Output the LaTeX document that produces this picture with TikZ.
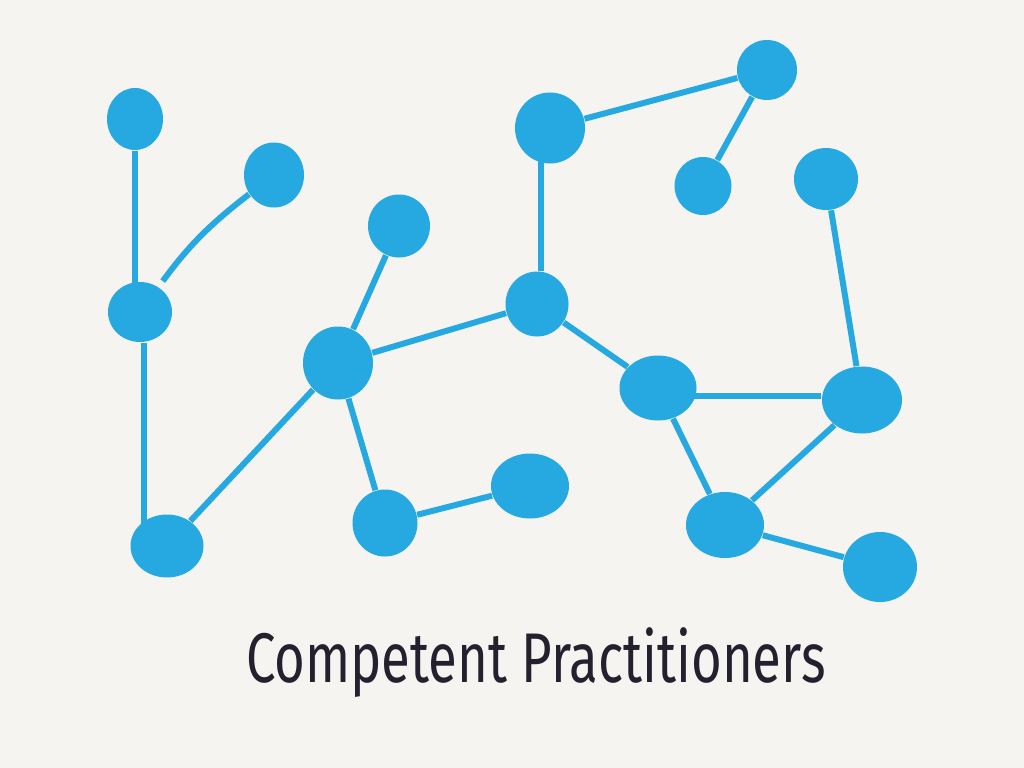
\documentclass[tikz,border=0pt]{standalone}
\usepackage{fontspec}
\setmainfont{Fira Sans}
\usepackage{tikz}
\usetikzlibrary{shapes}

\definecolor{paper}{HTML}{F5F4F1}
\definecolor{dotBlue}{HTML}{26A8E0}
\definecolor{ink}{HTML}{23212E}

\begin{document}
\begin{tikzpicture}[
	blob/.style={ellipse, fill=dotBlue, inner sep=0pt},
	link/.style={dotBlue, line width=1.7pt},
	caption/.style={ink, font=\fontsize{20}{23}\selectfont}
	]
	
	\fill[paper] (0,0) rectangle (10.24,-7.68);
	\useasboundingbox (0,0) rectangle (10.24,-7.68);
	
	% left branch
	\node[blob, minimum width=.56cm, minimum height=.62cm] (A) at (1.35,-1.19) {};
	\node[blob, minimum width=.60cm, minimum height=.65cm] (B) at (2.74,-1.75) {};
	\node[blob, minimum width=.64cm, minimum height=.60cm] (C) at (1.40,-3.12) {};
	\node[blob, minimum width=.73cm, minimum height=.63cm] (D) at (1.67,-5.46) {};
	
	% middle
	\node[blob, minimum width=.62cm, minimum height=.63cm] (E) at (3.99,-2.26) {};
	\node[blob, minimum width=.70cm, minimum height=.73cm] (F) at (3.38,-3.63) {};
	\node[blob, minimum width=.65cm, minimum height=.67cm] (G) at (3.85,-5.23) {};
	\node[blob, minimum width=.78cm, minimum height=.65cm] (H) at (5.30,-4.86) {};
	\node[blob, minimum width=.70cm, minimum height=.71cm] (I) at (5.50,-1.28) {};
	\node[blob, minimum width=.63cm, minimum height=.65cm] (J) at (5.37,-3.04) {};
	
	% right
	\node[blob, minimum width=.60cm, minimum height=.60cm] (K) at (7.67,-0.70) {};
	\node[blob, minimum width=.57cm, minimum height=.58cm] (L) at (7.03,-1.86) {};
	\node[blob, minimum width=.64cm, minimum height=.62cm] (M) at (8.26,-1.79) {};
	\node[blob, minimum width=.77cm, minimum height=.65cm] (N) at (6.58,-3.88) {};
	\node[blob, minimum width=.80cm, minimum height=.67cm] (O) at (8.62,-4.00) {};
	\node[blob, minimum width=.78cm, minimum height=.66cm] (P) at (7.25,-5.25) {};
	\node[blob, minimum width=.74cm, minimum height=.70cm] (Q) at (8.80,-5.67) {};
	
	% links
	\draw[link] (A) -- (A |- C);
	\draw[link, shorten >=2pt] (B) to[bend right=8] (C);
	\draw[link] ([xshift=1pt]C.south) -- ([xshift=1pt]C.south |- D);
	\draw[link] (D) -- (F);
	\draw[link] (E) -- (F);
	\draw[link] (F) -- (J);
	\draw[link] (F) -- (G);
	\draw[link] (G) -- (H);
	\draw[link] ([xshift=1pt]J.north) -- ([xshift=1pt]J.north |- I);
	\draw[link] (I) -- (K);
	\draw[link] (K) -- (L);
	\draw[link] (J) -- (N);
	\draw[link] ([yshift=1pt]O.west) -- ([yshift=1pt]O.west -| N);
	\draw[link] (M) -- (O);
	\draw[link] (N) -- (P);
	\draw[link] (O) -- (P);
	\draw[link] (P) -- (Q);
	
	\node[caption, xscale=.75] (title) at (5.36,-6.63) {Competent Practitioners};
\end{tikzpicture}
\end{document}
